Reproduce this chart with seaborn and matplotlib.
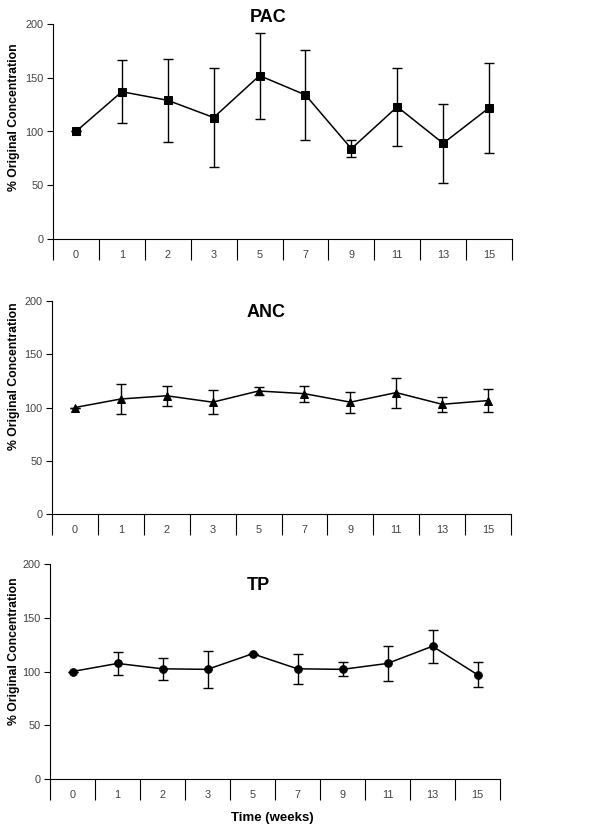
import matplotlib
matplotlib.use('Agg')
import matplotlib.pyplot as plt
import numpy as np
import seaborn as sns
from matplotlib.ticker import FixedLocator, NullFormatter, FixedFormatter

sns.set_style('white')
plt.rcParams['font.family'] = ['Liberation Sans', 'DejaVu Sans']
plt.rcParams['text.color'] = 'black'
plt.rcParams['axes.labelcolor'] = 'black'

# Data
weeks = ['0', '1', '2', '3', '5', '7', '9', '11', '13', '15']

pac_mean = [100, 137, 129, 113, 152, 134, 84, 123, 89, 122]
pac_err = [0, 29.5, 38.5, 46, 40, 41.5, 8, 36.5, 37, 42]

anc_mean = [100, 108, 111, 105, 115.5, 113, 105, 114, 103, 106.5]
anc_err = [0, 14, 9.5, 11, 3.5, 7.5, 10, 14, 7, 10.5]

tp_mean = [100, 107.5, 102.5, 102, 116.5, 102.5, 102, 107.5, 123.5, 97]
tp_err = [0, 11, 10, 17, 0, 14, 6.5, 16, 15.5, 11.5]

panels = [
    ('PAC', pac_mean, pac_err, 's', [53, 512, 24, 239], (0.468, 1.028), 0.567),
    ('ANC', anc_mean, anc_err, '^', [52, 511, 301, 514], (0.466, 0.944), 0.648),
    ('TP', tp_mean, tp_err, 'o', [50, 500, 564, 779], (0.464, 0.898), 0.595),
]

W, H = 612, 838
fig = plt.figure(figsize=(W / 100, H / 100), dpi=100)

grey = '#404040'
for name, mean, err, mk, box, tpos, ylab_y in panels:
    left, right, top, bottom = box
    ax = fig.add_axes([left / W, (H - bottom) / H, (right - left) / W, (bottom - top) / H])
    x = np.arange(len(weeks))

    ax.errorbar(x, mean, yerr=err, fmt='none', ecolor='black', elinewidth=1,
                capsize=3.5, capthick=1, zorder=2)
    sns.lineplot(x=x, y=mean, ax=ax, color='black', linewidth=1.1, marker=mk,
                 markersize=5.5 if mk != '^' else 6, markeredgecolor='black',
                 markerfacecolor='black', zorder=3)

    ax.set_xlim(-0.5, len(weeks) - 0.5)
    ax.set_ylim(0, 200)
    ax.set_yticks([0, 50, 100, 150, 200])
    ax.tick_params(axis='y', which='major', direction='out', length=4, width=0.8,
                   labelsize=7.8, labelcolor=grey, color='black', pad=3, left=True)

    # category boxes under the axis
    ax.xaxis.set_major_locator(FixedLocator(np.arange(-0.5, len(weeks), 1)))
    ax.xaxis.set_major_formatter(NullFormatter())
    ax.xaxis.set_minor_locator(FixedLocator(x))
    ax.xaxis.set_minor_formatter(FixedFormatter(weeks))
    ax.tick_params(axis='x', which='major', direction='out', length=15, width=0.8,
                   color='black', bottom=True)
    ax.tick_params(axis='x', which='minor', length=0, labelsize=7.8,
                   labelcolor=grey, pad=8, bottom=True)

    for s in ['top', 'right']:
        ax.spines[s].set_visible(False)
    for s in ['left', 'bottom']:
        ax.spines[s].set_color('black')
        ax.spines[s].set_linewidth(0.8)

    ax.set_xlabel('')
    ax.set_ylabel('% Original Concentration', fontsize=8.8, fontweight='bold')
    ax.yaxis.set_label_coords((20 - left) / (right - left), ylab_y)
    ax.text(tpos[0], tpos[1], name, transform=ax.transAxes, ha='center',
            va='center', fontsize=13, fontweight='bold', color='black')

    if name == 'TP':
        ax.set_xlabel('Time (weeks)', fontsize=9.5, fontweight='bold')
        ax.xaxis.set_label_coords((272 - left) / (right - left), -(812 - bottom) / (bottom - top))

fig.savefig('out.png', dpi=100)
